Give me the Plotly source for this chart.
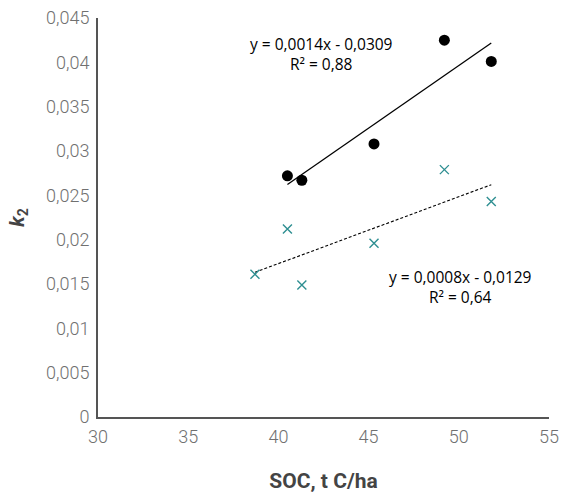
import numpy as np
import plotly.graph_objects as go

# Data
soc_a = [40.5, 41.3, 45.3, 49.2, 51.8]
k2_a = [0.0272, 0.0267, 0.0308, 0.0425, 0.0401]

soc_b = [38.7, 40.5, 41.3, 45.3, 49.2, 51.8]
k2_b = [0.0161, 0.0212, 0.0149, 0.0196, 0.0279, 0.0243]

x_ticks = [30, 35, 40, 45, 50, 55]
y_ticks = [0, 0.005, 0.01, 0.015, 0.02, 0.025, 0.03, 0.035, 0.04, 0.045]
y_tick_text = ["0", "0,005", "0,01", "0,015", "0,02", "0,025", "0,03", "0,035", "0,04", "0,045"]

eq_a = "y = 0,0014x - 0,0309<br>R² = 0,88"
eq_b = "y = 0,0008x - 0,0129<br>R² = 0,64"

teal = "#2f8f92"

# linear trendlines (least squares)
pa = np.polyfit(soc_a, k2_a, 1)
pb = np.polyfit(soc_b, k2_b, 1)
xa = [min(soc_a), max(soc_a)]
xb = [min(soc_b), max(soc_b)]

fig = go.Figure()
fig.add_trace(go.Scatter(x=xa, y=list(np.polyval(pa, xa)), mode="lines",
                         line=dict(color="black", width=1.3), showlegend=False, hoverinfo="skip"))
fig.add_trace(go.Scatter(x=xb, y=list(np.polyval(pb, xb)), mode="lines",
                         line=dict(color="black", width=1.1, dash="3px,2px"), showlegend=False, hoverinfo="skip"))
fig.add_trace(go.Scatter(x=soc_a, y=k2_a, mode="markers",
                         marker=dict(symbol="circle", size=11, color="black"), showlegend=False))
fig.add_trace(go.Scatter(x=soc_b, y=k2_b, mode="markers",
                         marker=dict(symbol="x-thin", size=9, line=dict(color=teal, width=1.4)),
                         showlegend=False))

ann_font = dict(family="Open Sans, sans-serif", size=15.5, color="black")
fig.add_annotation(x=42.4, y=0.0409, xref="x", yref="y", text=eq_a, showarrow=False,
                   font=ann_font, align="center")
fig.add_annotation(x=50.1, y=0.0147, xref="x", yref="y", text=eq_b, showarrow=False,
                   font=ann_font, align="center")

fig.update_layout(
    width=564, height=494,
    margin=dict(l=98, r=15, t=18, b=77),
    paper_bgcolor="white", plot_bgcolor="white",
    font=dict(family="Roboto, sans-serif", color="#606060"),
    xaxis=dict(range=[30, 55], tickvals=x_ticks, ticktext=[str(v) for v in x_ticks],
               showgrid=False, zeroline=False, showline=True, linecolor="#555555", linewidth=2,
               ticks="", automargin=False, ticklabelstandoff=2, ticklabeloverflow="allow",
               tickfont=dict(family="Roboto", size=18, color="#707070", weight=300),
               title=dict(text="<b>SOC, t C/ha</b>", font=dict(size=21, color="#444444"), standoff=28)),
    yaxis=dict(range=[0, 0.045], tickvals=y_ticks, ticktext=y_tick_text,
               showgrid=False, zeroline=False, showline=True, linecolor="#555555", linewidth=2,
               ticks="", automargin=False, ticklabelstandoff=3, ticklabeloverflow="allow",
               tickfont=dict(family="Roboto", size=18, color="#707070", weight=300),
               title=dict(text="<b><i>k</i><sub>2</sub></b>", font=dict(size=20, color="#444444"), standoff=16)),
)

fig.write_html("out.html", config={"displayModeBar": False},
               post_script="document.body.style.margin='0';document.body.style.overflow='hidden';")
